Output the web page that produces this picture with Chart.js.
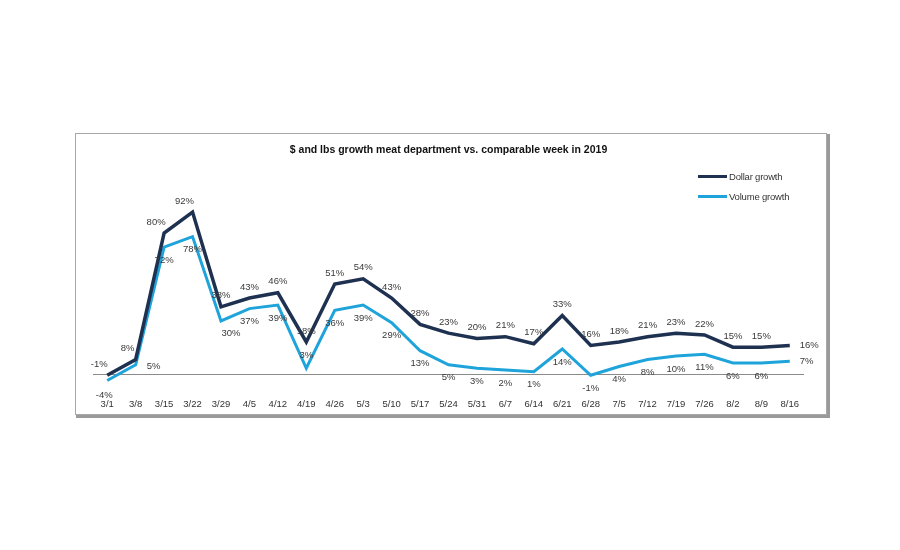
<!DOCTYPE html>
<html>
<head>
<meta charset="utf-8">
<script src="https://cdn.jsdelivr.net/npm/chart.js@4/dist/chart.umd.min.js"></script>
<style>
  html, body { margin: 0; padding: 0; background: #fff; width: 900px; height: 550px; overflow: hidden; }
  #box { position: absolute; left: 75px; top: 133px; width: 750px; height: 280px;
         border: 1px solid #a8a8a8; box-shadow: 2px 2px 0 1px #9a9a9a; background: #fff; }
  #box canvas { position: absolute; left: 0; top: 0; }
  .leg { position: absolute; font-family: "Liberation Sans", Arial, sans-serif; font-size: 9.5px; color: #333;
         display: flex; align-items: center; letter-spacing: -0.2px; }
  .leg span.ln { display: inline-block; width: 29px; height: 3px; margin-right: 2px; }
</style>
</head>
<body>
<div id="box">
  <canvas id="c" width="750" height="280"></canvas>
  <div class="leg" style="left:622px; top:37px;"><span class="ln" style="background:#1f3150"></span>Dollar growth</div>
  <div class="leg" style="left:622px; top:57px;"><span class="ln" style="background:#1ea4db"></span>Volume growth</div>
</div>
<script>
const weeks = ["3/1","3/8","3/15","3/22","3/29","4/5","4/12","4/19","4/26","5/3","5/10","5/17","5/24","5/31","6/7","6/14","6/21","6/28","7/5","7/12","7/19","7/26","8/2","8/9","8/16"];
const dollarGrowth = [-1, 8, 80, 92, 38, 43, 46, 18, 51, 54, 43, 28, 23, 20, 21, 17, 33, 16, 18, 21, 23, 22, 15, 15, 16];
const volumeGrowth = [-4, 5, 72, 78, 30, 37, 39, 3, 36, 39, 29, 13, 5, 3, 2, 1, 14, -1, 4, 8, 10, 11, 6, 6, 7];
const titleText = "$ and lbs growth meat department vs. comparable week in 2019";

const zeroLine = {
  id: 'zeroLine',
  beforeDatasetsDraw(chart) {
    const { ctx, chartArea, scales } = chart;
    const y = Math.round(scales.y.getPixelForValue(0)) + 0.5;
    ctx.save();
    ctx.strokeStyle = '#8a8a8a';
    ctx.lineWidth = 1;
    ctx.beginPath();
    ctx.moveTo(chartArea.left, y);
    ctx.lineTo(chartArea.right, y);
    ctx.stroke();
    ctx.restore();
  }
};

const dataLabels = {
  id: 'dataLabels',
  afterDatasetsDraw(chart) {
    const { ctx } = chart;
    ctx.save();
    ctx.font = '9.5px "Liberation Sans", Arial, sans-serif';
    ctx.fillStyle = '#3a3a3a';
    ctx.textBaseline = 'middle';
    chart.data.datasets.forEach((ds, di) => {
      const meta = chart.getDatasetMeta(di);
      const n = ds.data.length;
      meta.data.forEach((pt, i) => {
        let dx = 0, dy = di === 0 ? -11 : 13, align = 'center';
        if (di === 0 && (i === 0 || i === 1 || i === 2 || i === 3)) { dx = -8; }
        if (di === 1 && i === 0) { dy = 15; dx = -3; }
        if (di === 1 && i === 1) { dx = 18; dy = 2; }
        if (di === 1 && i === 7) { dy = -13; }
        if (di === 1 && i === 4) { dx = 10; dy = 12; }
        if (i === n - 1) { dx = 10; dy = 0; align = 'left'; }
        ctx.textAlign = align;
        ctx.fillText(ds.data[i] + '%', pt.x + dx, pt.y + dy);
      });
    });
    ctx.restore();
  }
};

new Chart(document.getElementById('c'), {
  type: 'line',
  data: {
    labels: weeks,
    datasets: [
      { label: 'Dollar growth', data: dollarGrowth, borderColor: '#1f3150', borderWidth: 3.5,
        pointRadius: 0, tension: 0, fill: false },
      { label: 'Volume growth', data: volumeGrowth, borderColor: '#1ea4db', borderWidth: 3,
        pointRadius: 0, tension: 0, fill: false }
    ]
  },
  options: {
    responsive: false,
    animation: false,
    layout: { padding: { left: 17, right: 22, top: 0, bottom: 0 } },
    plugins: {
      legend: { display: false },
      tooltip: { enabled: false },
      title: {
        display: true, text: titleText, color: '#111',
        font: { family: '"Liberation Sans", Arial, sans-serif', size: 10.5, weight: 'bold' },
        padding: { top: 10, bottom: 41.4 }
      }
    },
    scales: {
      x: {
        offset: true,
        grid: { display: false, drawTicks: false },
        border: { display: false },
        ticks: { color: '#333', autoSkip: false, maxRotation: 0, padding: 4,
                 font: { family: '"Liberation Sans", Arial, sans-serif', size: 9.5 } }
      },
      y: {
        display: false,
        min: -12, max: 100
      }
    }
  },
  plugins: [zeroLine, dataLabels]
});
</script>
</body>
</html>
